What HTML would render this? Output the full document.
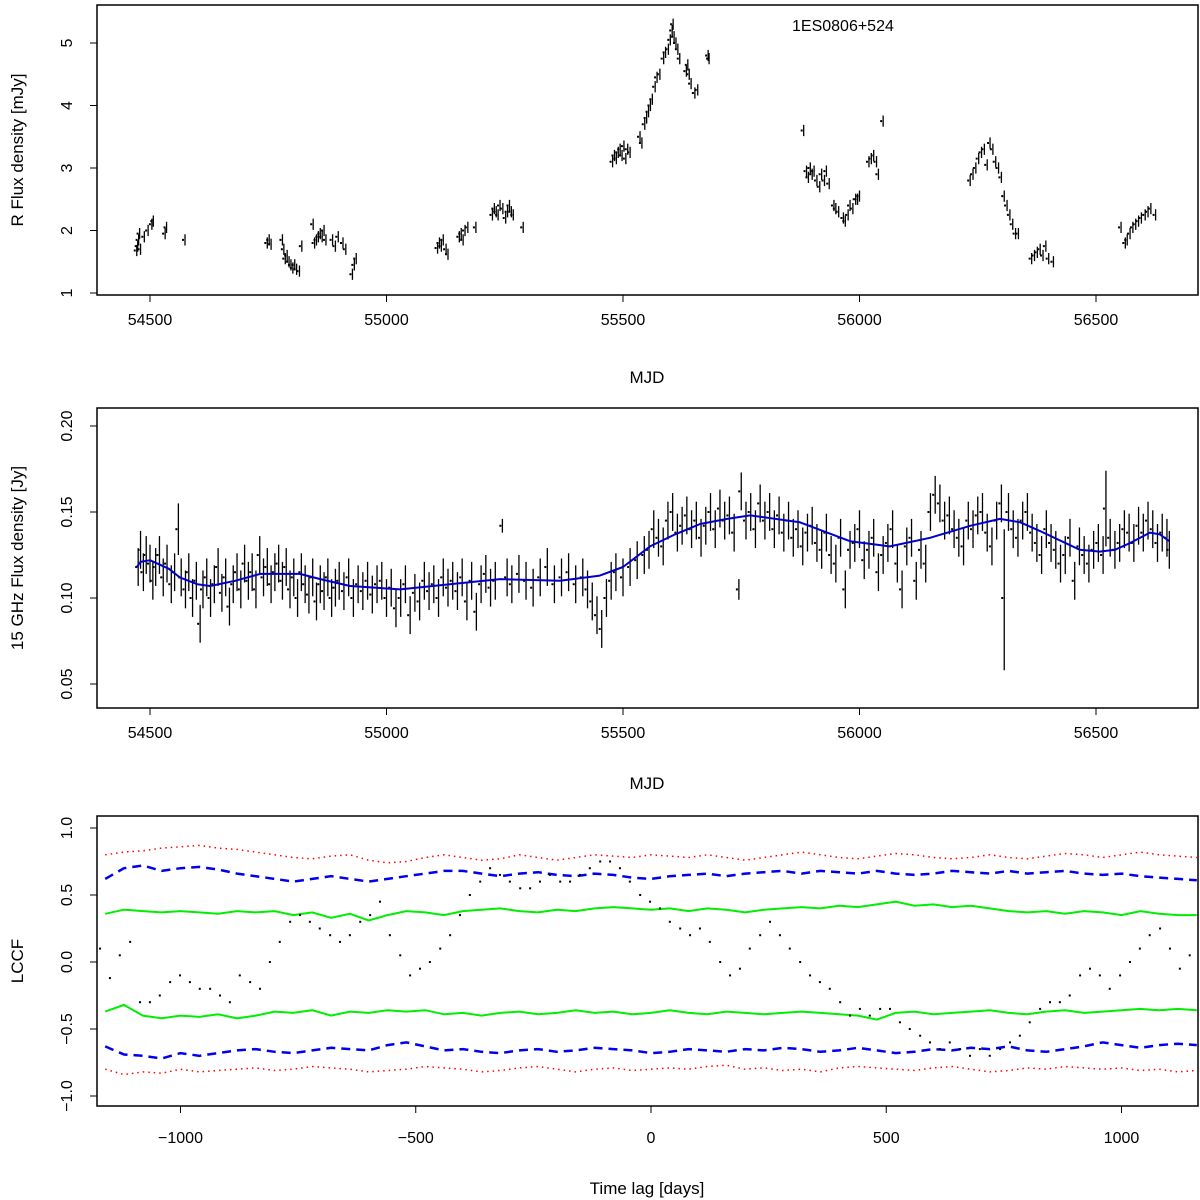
<!DOCTYPE html>
<html><head><meta charset="utf-8">
<style>
html,body{margin:0;padding:0;background:#fff;}
svg{display:block;font-family:"Liberation Sans",Arial,sans-serif;}
</style></head>
<body>
<svg id="chart" width="1200" height="1200" viewBox="0 0 1200 1200" xmlns="http://www.w3.org/2000/svg">
<rect x="0" y="0" width="1200" height="1200" fill="#fff"/>
<g id="p1"></g>
<g id="p2"></g>
<g id="p3"></g>
</svg>
<script>
// ---------- Panel 1 data: R-band flux [MJD, mJy] ----------
const p1Data = [
[54472,1.68],[54474,1.75],[54476,1.85],[54478,1.95],[54480,1.7],[54488,1.9],[54496,2.0],[54504,2.1],[54507,2.15],[54532,1.95],[54535,2.05],[54574,1.85],
[54748,1.8],[54752,1.85],[54756,1.78],[54780,1.85],[54783,1.7],[54786,1.55],[54790,1.6],[54794,1.5],[54798,1.45],[54802,1.4],[54806,1.45],[54810,1.38],[54816,1.35],[54821,1.75],
[54845,2.1],[54848,1.8],[54852,1.85],[54856,1.9],[54860,1.95],[54864,1.9],[54868,2.0],[54872,1.85],[54886,1.85],[54892,1.75],[54898,1.9],[54908,1.8],[54914,1.7],[54928,1.3],[54932,1.45],[54936,1.55],
[55108,1.72],[55112,1.8],[55116,1.75],[55120,1.85],[55126,1.7],[55130,1.62],[55154,1.9],[55158,1.95],[55162,1.85],[55166,2.0],[55172,2.05],[55189,2.05],
[55224,2.25],[55228,2.35],[55232,2.3],[55236,2.25],[55240,2.4],[55246,2.35],[55252,2.2],[55256,2.3],[55260,2.4],[55264,2.3],[55268,2.25],[55289,2.05],
[55478,3.1],[55482,3.2],[55486,3.15],[55490,3.25],[55494,3.3],[55498,3.2],[55502,3.35],[55506,3.15],[55510,3.3],[55515,3.25],[55536,3.5],[55540,3.4],
[55546,3.7],[55550,3.8],[55554,3.9],[55558,4.0],[55562,4.1],[55568,4.3],[55572,4.45],[55578,4.5],[55586,4.75],[55590,4.85],[55596,4.9],[55600,5.05],[55604,5.2],[55606,5.3],[55608,5.1],[55612,5.0],[55616,4.9],[55620,4.75],
[55634,4.55],[55637,4.65],[55640,4.5],[55644,4.35],[55652,4.2],[55658,4.25],[55680,4.8],[55682,4.75],
[55882,3.6],[55888,2.95],[55892,2.85],[55896,3.0],[55900,2.9],[55904,2.95],[55910,2.8],[55916,2.7],[55920,2.9],[55926,2.8],[55930,2.95],[55936,2.75],[55946,2.4],[55950,2.35],[55956,2.3],[55966,2.2],[55970,2.15],[55976,2.25],[55980,2.4],[55986,2.35],[55992,2.5],[55996,2.5],[56000,2.55],
[56020,3.1],[56025,3.15],[56030,3.2],[56036,3.1],[56040,2.9],[56050,3.75],
[56234,2.8],[56240,2.9],[56246,3.0],[56252,3.15],[56258,3.25],[56264,3.3],[56270,3.05],[56276,3.4],[56282,3.3],[56288,3.1],[56294,3.0],[56300,2.85],
[56306,2.55],[56312,2.4],[56318,2.25],[56324,2.1],[56330,1.95],[56336,1.95],[56364,1.55],[56370,1.6],[56376,1.65],[56382,1.7],[56388,1.6],[56394,1.75],[56400,1.55],[56410,1.5],
[56553,2.05],[56562,1.8],[56566,1.85],[56572,1.95],[56578,2.05],[56584,2.1],[56590,2.15],[56596,2.2],[56604,2.25],[56610,2.3],[56616,2.35],[56626,2.25]
];
const p1Err = 0.09;
const p1YTicks = [1,2,3,4,5];
const mjdTicks = [54500,55000,55500,56000,56500];

// ---------- Panel 2 data: 15 GHz flux [MJD, Jy, err] ----------
const p2Data = [
[54475,.118],[54480,.128],[54486,.115],[54492,.125],[54500,.120],[54506,.110],[54512,.118],[54520,.125],[54528,.112],[54536,.120],[54545,.108],[54552,.115],[54560,.140,.015],[54566,.112],[54575,.105],[54582,.115],[54590,.100],[54598,.110],[54606,.085],[54612,.105],[54620,.112],[54628,.100],[54636,.108],[54644,.118],[54652,.103],[54660,.112],[54668,.095],[54676,.108],[54684,.115],[54692,.105],[54700,.120],[54708,.110],[54716,.115],[54724,.105],[54732,.125],[54740,.112],[54748,.118],[54756,.108],[54764,.115],[54772,.120],[54780,.110],[54788,.118],[54796,.105],[54804,.112],[54812,.100],[54820,.115],[54828,.108],[54836,.102],[54844,.112],[54852,.098],[54860,.108],[54868,.104],[54876,.112],[54884,.100],[54892,.106],[54900,.110],[54910,.104],[54920,.112],[54930,.100],[54940,.108],[54950,.104],[54960,.110],[54970,.102],[54980,.108],[54990,.110],[55000,.100],[55010,.106],[55020,.094],[55030,.100],[55040,.108],[55050,.090],[55060,.103],[55070,.098],[55080,.110],[55090,.104],[55100,.108],[55110,.100],[55120,.112],[55130,.106],[55140,.110],[55150,.104],[55160,.112],[55170,.098],[55180,.110],[55190,.092],[55200,.108],[55210,.114],[55220,.106],[55230,.110],[55245,.142,.004],[55255,.112],[55265,.108],[55280,.114],[55295,.110],[55310,.106],[55325,.112],[55340,.118],[55355,.108],[55370,.112],[55385,.115],[55400,.108],[55415,.112],[55425,.105],[55435,.098],[55445,.090],[55455,.082],[55465,.100],[55475,.110],[55485,.115],[55500,.112],[55515,.118],[55530,.122],[55545,.125],[55555,.128],[55565,.140],[55575,.135],[55585,.130],[55595,.145],[55605,.150],[55615,.138],[55625,.142],[55635,.148],[55645,.140],[55655,.145],[55665,.135],[55675,.142],[55685,.150],[55695,.140],[55705,.152],[55715,.145],[55725,.148],[55735,.138],[55745,.105,.006],[55750,.162],[55760,.145],[55770,.150],[55780,.140],[55790,.155],[55800,.145],[55810,.150],[55820,.140],[55830,.148],[55840,.138],[55850,.145],[55860,.135],[55870,.140],[55880,.130],[55890,.138],[55900,.142],[55910,.132],[55920,.128],[55930,.138],[55940,.125],[55950,.120],[55960,.135],[55970,.105],[55980,.128],[55990,.132],[56000,.140],[56010,.122],[56020,.128],[56030,.135],[56040,.115],[56050,.125],[56060,.132],[56070,.140],[56080,.120],[56090,.105],[56100,.130],[56110,.135],[56120,.110],[56130,.128],[56140,.120],[56150,.150],[56160,.160],[56170,.155],[56180,.145],[56190,.148],[56200,.140],[56210,.135],[56220,.130],[56230,.145],[56240,.140],[56250,.148],[56260,.150],[56270,.138],[56280,.130],[56290,.145],[56300,.155],[56306,.100,.04],[56315,.150],[56325,.140],[56335,.135],[56345,.145],[56355,.150],[56365,.138],[56375,.132],[56385,.125],[56395,.140],[56405,.132],[56415,.128],[56425,.120],[56435,.125],[56445,.135],[56455,.110],[56465,.130],[56475,.125],[56485,.120],[56495,.128],[56505,.132],[56515,.125],[56521,.152,.022],[56530,.135],[56540,.128],[56550,.132],[56560,.140],[56570,.138],[56580,.132],[56590,.142],[56600,.138],[56610,.145],[56620,.140],[56630,.132],[56640,.138],[56650,.135],[56655,.128]
];
const p2DefaultErr = 0.011;
const p2YTicks = [0.05,0.10,0.15,0.20];
const p2YLabels = ["0.05","0.10","0.15","0.20"];
const curveMjd = [54472,54480,54500,54540,54563,54600,54627,54680,54733,54817,54860,54923,55029,55134,55240,55367,55451,55500,55557,55610,55663,55720,55769,55874,55980,56064,56149,56234,56297,56340,56381,56466,56508,56540,56572,56614,56635,56655];
const curveVal = [0.118,0.121,0.122,0.117,0.112,0.108,0.107,0.110,0.114,0.114,0.111,0.107,0.105,0.108,0.111,0.110,0.113,0.118,0.130,0.137,0.143,0.146,0.148,0.144,0.133,0.130,0.135,0.142,0.146,0.144,0.139,0.128,0.127,0.128,0.132,0.138,0.137,0.133];

// ---------- Panel 3 data: LCCF ----------
const lagTicks = [-1000,-500,0,500,1000];
const lccfYTicks = [-1.0,-0.5,0.0,0.5,1.0];
const lccfYLabels = ["−1.0","−0.5","0.0","0.5","1.0"];
const envLags = [-1160,-1120,-1080,-1040,-1000,-960,-920,-880,-840,-800,-760,-720,-680,-640,-600,-560,-520,-480,-440,-400,-360,-320,-280,-240,-200,-160,-120,-80,-40,0,40,80,120,160,200,240,280,320,360,400,440,480,520,560,600,640,680,720,760,800,840,880,920,960,1000,1040,1080,1120,1160];
const redTop = [.80,.82,.83,.85,.86,.87,.85,.84,.82,.80,.78,.77,.79,.80,.76,.74,.75,.78,.80,.78,.76,.77,.80,.78,.76,.78,.80,.79,.78,.80,.79,.78,.80,.78,.76,.78,.80,.82,.80,.78,.77,.79,.81,.80,.78,.77,.78,.80,.78,.77,.79,.81,.80,.78,.80,.82,.80,.79,.78];
const blueTop = [.62,.70,.72,.68,.70,.71,.69,.66,.64,.62,.60,.62,.64,.62,.60,.62,.64,.66,.68,.68,.66,.64,.66,.67,.65,.64,.66,.65,.63,.62,.64,.65,.66,.64,.66,.67,.68,.66,.68,.67,.66,.68,.66,.65,.66,.68,.67,.66,.68,.66,.67,.68,.66,.65,.66,.64,.63,.62,.61];
const greenTop = [.36,.39,.38,.37,.38,.37,.36,.38,.37,.38,.35,.37,.33,.36,.31,.35,.38,.37,.35,.38,.39,.40,.38,.37,.39,.38,.40,.41,.40,.39,.40,.38,.40,.39,.37,.39,.40,.41,.40,.42,.41,.43,.45,.42,.43,.41,.42,.40,.38,.37,.38,.36,.38,.37,.35,.38,.36,.35,.35];
const greenBot = [-.37,-.32,-.40,-.42,-.40,-.41,-.39,-.42,-.40,-.37,-.38,-.36,-.40,-.37,-.38,-.36,-.37,-.36,-.39,-.38,-.40,-.38,-.37,-.39,-.38,-.36,-.38,-.37,-.39,-.38,-.36,-.38,-.39,-.37,-.38,-.39,-.38,-.37,-.38,-.39,-.40,-.43,-.38,-.37,-.39,-.38,-.37,-.36,-.38,-.39,-.37,-.36,-.38,-.37,-.36,-.35,-.36,-.35,-.36];
const blueBot = [-.63,-.69,-.70,-.72,-.68,-.70,-.68,-.66,-.65,-.67,-.68,-.66,-.64,-.65,-.66,-.62,-.60,-.63,-.66,-.65,-.67,-.68,-.66,-.65,-.67,-.66,-.64,-.65,-.66,-.68,-.67,-.65,-.66,-.67,-.65,-.66,-.64,-.65,-.67,-.66,-.64,-.66,-.68,-.67,-.65,-.66,-.64,-.65,-.63,-.66,-.67,-.65,-.63,-.60,-.62,-.64,-.62,-.61,-.62];
const redBot = [-.80,-.84,-.82,-.83,-.80,-.82,-.81,-.80,-.79,-.81,-.80,-.78,-.79,-.80,-.82,-.81,-.80,-.78,-.79,-.80,-.82,-.81,-.79,-.78,-.80,-.82,-.80,-.79,-.81,-.80,-.79,-.80,-.78,-.77,-.80,-.79,-.81,-.80,-.82,-.79,-.78,-.79,-.80,-.81,-.79,-.78,-.80,-.82,-.81,-.79,-.80,-.78,-.79,-.80,-.79,-.81,-.80,-.82,-.81];
const lccfLags = [-1171,-1150,-1129,-1107,-1086,-1065,-1044,-1022,-1001,-980,-959,-937,-916,-895,-874,-852,-831,-810,-789,-767,-746,-725,-704,-682,-661,-640,-618,-597,-576,-555,-533,-512,-491,-470,-448,-427,-406,-385,-363,-342,-321,-300,-278,-257,-236,-215,-193,-172,-151,-130,-108,-87,-66,-45,-23,-2,19,40,62,83,104,125,147,168,189,210,232,253,274,295,317,338,359,380,402,423,444,465,487,508,529,550,572,593,614,635,657,678,699,720,742,763,784,805,827,848,869,890,912,933,954,975,997,1018,1039,1060,1082,1103,1124,1145];
const lccfVals = [0.1,-0.12,0.05,0.15,-0.3,-0.3,-0.25,-0.15,-0.1,-0.15,-0.2,-0.2,-0.25,-0.3,-0.1,-0.15,-0.2,0.0,0.15,0.3,0.35,0.3,0.25,0.2,0.15,0.2,0.3,0.35,0.45,0.2,0.05,-0.1,-0.05,0.0,0.1,0.2,0.35,0.5,0.6,0.7,0.65,0.6,0.55,0.55,0.6,0.65,0.6,0.6,0.65,0.7,0.75,0.75,0.7,0.6,0.5,0.45,0.4,0.3,0.25,0.2,0.25,0.15,0.0,-0.1,-0.05,0.1,0.2,0.3,0.2,0.1,0.0,-0.1,-0.15,-0.2,-0.3,-0.4,-0.35,-0.4,-0.35,-0.35,-0.45,-0.5,-0.55,-0.6,-0.65,-0.6,-0.65,-0.7,-0.65,-0.7,-0.65,-0.6,-0.55,-0.45,-0.35,-0.3,-0.3,-0.25,-0.1,-0.05,-0.1,-0.2,-0.1,0.0,0.1,0.2,0.25,0.1,-0.05,0.05,0.15,0.1].slice(0,110);

// ---------- axis functions ----------
const NS = "http://www.w3.org/2000/svg";
const X0 = 97, X1 = 1198;
const xMjd = m => 150 + (m - 54500) * 0.473;
const y1 = v => 293 - (v - 1) * 62.5;
const y2 = v => 598 - (v - 0.10) * 1720;
const xLag = l => 651 + l * 0.4705;
const y3 = v => 962 - v * 134;

function mk(tag, attrs, parent) {
  const e = document.createElementNS(NS, tag);
  for (const k in attrs) e.setAttribute(k, attrs[k]);
  parent.appendChild(e);
  return e;
}

function frame(g, top, bot, xTicks, xFn, xLabels, yTicks, yFn, yLabels, xTitle, yTitle, titleY, tickLabelY) {
  const r = mk("rect", {x: X0, y: top, width: X1 - X0, height: bot - top, fill: "none", stroke: "#000", "stroke-width": 1.5}, g);
  
  
  xTicks.forEach((t, i) => {
    const x = xFn(t);
    const l = mk("line", {x1: x, x2: x, y1: bot, y2: bot + 7, stroke: "#000", "stroke-width": 1}, g);
    
    
    const tx = mk("text", {x: x, y: tickLabelY, "font-size": 16, "text-anchor": "middle", fill: "#000"}, g);
    tx.textContent = xLabels[i];
    
    
  });
  yTicks.forEach((t, i) => {
    const y = yFn(t);
    const l = mk("line", {x1: X0 - 7, x2: X0, y1: y, y2: y, stroke: "#000", "stroke-width": 1}, g);
    
    
    const tx = mk("text", {x: 0, y: 0, "font-size": 16, "text-anchor": "middle", fill: "#000", transform: `translate(72,${y}) rotate(-90)`}, g);
    tx.textContent = yLabels[i];
    
    
  });
  const xt = mk("text", {x: 647, y: titleY, "font-size": 17, "text-anchor": "middle", fill: "#000"}, g);
  xt.textContent = xTitle;
  
  
  const yt = mk("text", {x: 0, y: 0, "font-size": 17, "text-anchor": "middle", fill: "#000", transform: `translate(23,${(top + bot) / 2}) rotate(-90)`}, g);
  yt.textContent = yTitle;
  
  
}

// ---------- Panel 1 ----------
const g1 = document.getElementById("p1");
frame(g1, 5, 295, mjdTicks, xMjd, mjdTicks.map(String), p1YTicks, y1, p1YTicks.map(String), "MJD", "R Flux density [mJy]", 383, 325);
p1Data.forEach(d => {
  const x = xMjd(d[0]);
  const e = mk("line", {x1: x, x2: x, y1: y1(d[1] - p1Err), y2: y1(d[1] + p1Err), stroke: "#000", "stroke-width": 1.3}, g1);
  
  
  const p = mk("rect", {x: x - 3, y: y1(d[1]) - 1, width: 2, height: 2, fill: "#000"}, g1);
  
  
});
const src = mk("text", {x: 792, y: 31, "font-size": 16, fill: "#000"}, g1);
src.textContent = "1ES0806+524";



// ---------- Panel 2 ----------
const g2 = document.getElementById("p2");
frame(g2, 408, 708, mjdTicks, xMjd, mjdTicks.map(String), p2YTicks, y2, p2YLabels, "MJD", "15 GHz Flux density [Jy]", 789, 738);
p2Data.forEach(d => {
  const x = xMjd(d[0]);
  const er = d.length > 2 ? d[2] : p2DefaultErr;
  let lo = d[1] - er, hi = d[1] + er;
  if (d[0] === 56306) { lo = 0.058; hi = 0.14; }
  const e = mk("line", {x1: x, x2: x, y1: y2(lo), y2: y2(hi), stroke: "#000", "stroke-width": 1.3}, g2);
  
  
  const p = mk("rect", {x: x - 3, y: y2(d[1]) - 1, width: 2, height: 2, fill: "#000"}, g2);
  
  
});
const cpts = curveMjd.map((m, i) => xMjd(m).toFixed(1) + "," + y2(curveVal[i]).toFixed(1)).join(" ");
const curve = mk("polyline", {points: cpts, fill: "none", stroke: "#0000cc", "stroke-width": 2, "stroke-linejoin": "round"}, g2);



// ---------- Panel 3 ----------
const g3 = document.getElementById("p3");
const defs = mk("clipPath", {id: "clip3"}, g3);
mk("rect", {x: X0, y: 816, width: X1 - X0, height: 290}, defs);
frame(g3, 816, 1106, lagTicks, xLag, lagTicks.map(t => t < 0 ? "−" + Math.abs(t) : String(t)), lccfYTicks, y3, lccfYLabels, "Time lag [days]", "LCCF", 1194, 1143);
const series = [
  [redTop, "#ff0000", "1.5,4", 1.5, "significance-99.9-upper"],
  [blueTop, "#0000ee", "9,6", 2.5, "significance-99-upper"],
  [greenTop, "#00ee00", "", 2, "significance-95-upper"],
  [greenBot, "#00ee00", "", 2, "significance-95-lower"],
  [blueBot, "#0000ee", "9,6", 2.5, "significance-99-lower"],
  [redBot, "#ff0000", "1.5,4", 1.5, "significance-99.9-lower"]
];
const cg = mk("g", {"clip-path": "url(#clip3)"}, g3);
series.forEach(s => {
  const pts = envLags.map((l, i) => xLag(l).toFixed(1) + "," + y3(s[0][i]).toFixed(1)).join(" ");
  const pl = mk("polyline", {points: pts, fill: "none", stroke: s[1], "stroke-width": s[3], "stroke-dasharray": s[2]}, cg);
  
  
});
lccfLags.forEach((l, i) => {
  if (i >= lccfVals.length) return;
  const p = mk("rect", {x: xLag(l) - 1, y: y3(lccfVals[i]) - 1, width: 2, height: 2, fill: "#000"}, cg);
  
  
});
</script>
</body></html>
